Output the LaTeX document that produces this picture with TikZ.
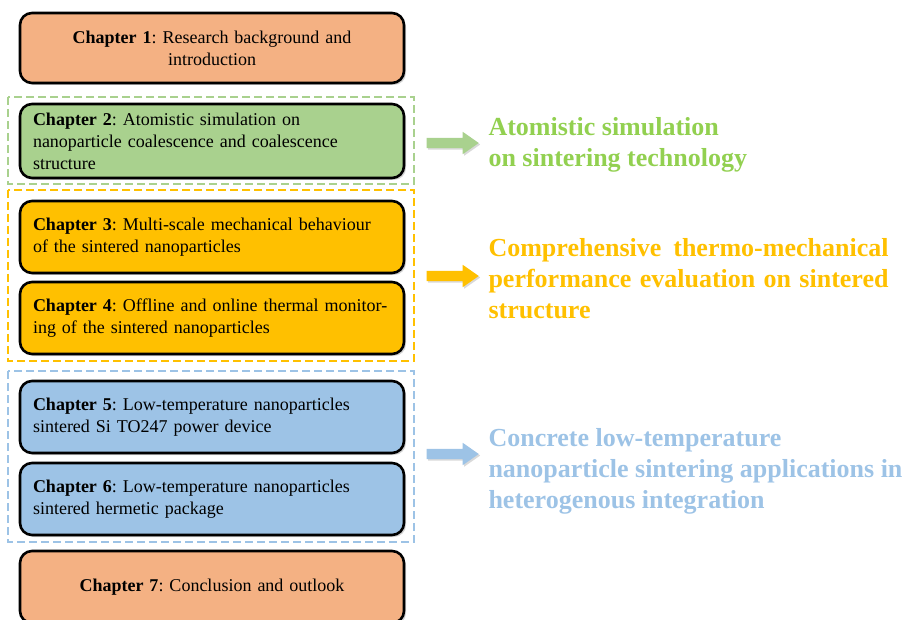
\documentclass[tikz,border=0pt]{standalone}
\usepackage{fontspec}
\setmainfont{Liberation Serif}
\usepackage{xcolor}
\usepackage{tikz}
\usetikzlibrary{positioning, shapes, shapes.arrows, shadows}

\definecolor{salmon}{HTML}{F4B183}
\definecolor{leaf}{HTML}{A9D18E}
\definecolor{leaftext}{HTML}{92D050}
\definecolor{gold}{HTML}{FFC000}
\definecolor{sky}{HTML}{9DC3E6}

\frenchspacing

\begin{document}
\begin{tikzpicture}[x=1pt, y=-1pt,
    chapbox/.style={draw=black, line width=2.6pt, rounded corners=12pt,
      minimum width=384pt, minimum height=72pt, text width=358pt, inner xsep=13pt,
      font=\fontsize{18}{22}\selectfont, align=left,
      drop shadow={opacity=0.35, shadow xshift=2pt, shadow yshift=-2pt}},
    groupbox/.style={line width=2.4pt, dash pattern=on 8pt off 4pt},
    blockarrow/.style={single arrow, minimum height=52pt, inner sep=5pt,
      single arrow head extend=6pt, single arrow tip angle=70,
      drop shadow={opacity=0.3, shadow xshift=1.5pt, shadow yshift=-1.5pt}},
    resulttext/.style={anchor=west, align=left, font=\fontsize{26}{31}\selectfont\bfseries}]
  \useasboundingbox (0,0) rectangle (907,620);

  % dashed frames round the grouped chapters
  \draw[groupbox, leaf] (8,97) rectangle (414,184);
  \draw[groupbox, gold] (8,190) rectangle (414,361);
  \draw[groupbox, sky] (8,371) rectangle (414,542);

  % chapters
  \node[chapbox, fill=salmon, align=center, minimum height=70pt] (ch1) at (212,48)
    {\textbf{Chapter 1}: Research background and\\introduction};
  \node[chapbox, fill=leaf, minimum height=74pt] (ch2) at (212,141)
    {\textbf{Chapter 2}: Atomistic simulation on\\nanoparticle coalescence and coalescence\\structure};
  \node[chapbox, fill=gold] (ch3) at (212,237)
    {\textbf{Chapter 3}: Multi-scale mechanical behaviour\\of the sintered nanoparticles};
  \node[chapbox, fill=gold] (ch4) at (212,318)
    {\textbf{Chapter 4}: Offline and online thermal monitor-\\ing of the sintered nanoparticles};
  \node[chapbox, fill=sky] (ch5) at (212,417)
    {\textbf{Chapter 5}: Low-temperature nanoparticles\\sintered Si TO247 power device};
  \node[chapbox, fill=sky] (ch6) at (212,499)
    {\textbf{Chapter 6}: Low-temperature nanoparticles\\sintered hermetic package};
  \node[chapbox, fill=salmon, align=center] (ch7) at (212,587)
    {\textbf{Chapter 7}: Conclusion and outlook};

  % arrows and what each group gives
  \node[blockarrow, fill=leaf] (arr2) at (449,143) {};
  \node[resulttext, text=leaftext] (res2) at (485,145)
    {Atomistic simulation\\on sintering technology};

  \node[blockarrow, fill=gold] (arr34) at (449,276) {};
  \node[resulttext, text=gold] (res34) at (485,279)
    {\makebox[400pt][s]{Comprehensive thermo-mechanical}\\
     \makebox[400pt][s]{performance evaluation on sintered}\\structure};

  \node[blockarrow, fill=sky] (arr56) at (449,454) {};
  \node[resulttext, text=sky] (res56) at (485,471)
    {Concrete low-temperature\\nanoparticle sintering applications in\\heterogenous integration};
\end{tikzpicture}
\end{document}
